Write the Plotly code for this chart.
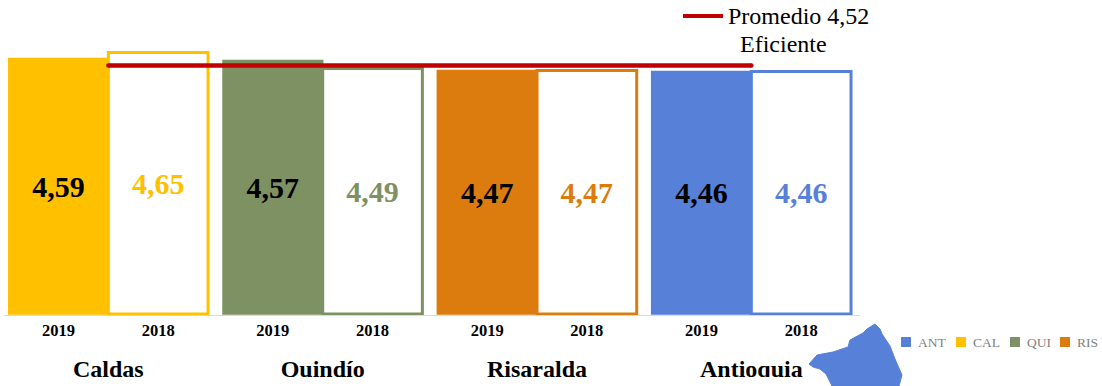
import plotly.graph_objects as go

REGIONS = ["Caldas", "Quindío", "Risaralda", "Antioquia"]
YEARS = ["2019", "2018"]
VALUES_2019 = [4.59, 4.57, 4.47, 4.46]
VALUES_2018 = [4.65, 4.49, 4.47, 4.46]
COLORS = ["#FFC000", "#7D9162", "#DD7C0E", "#5780D8"]
AVERAGE = 4.52
AVERAGE_LABEL = ["Promedio 4,52", "Eficiente"]
LEGEND_CODES = ["ANT", "CAL", "QUI", "RIS"]
LEGEND_COLORS = ["#5780D8", "#FFC000", "#7D9162", "#DD7C0E"]

W, H = 1102, 386
BASE = 2.035
PITCH = 2.15
SERIF = "Liberation Serif, Times New Roman, serif"
NAME_LEVEL = 1.47


def fmt(v):
    return f"{v:.2f}".replace(".", ",")


def px(x):
    return x / W


def py(y):
    return 1 - y / H


x19 = [g * PITCH for g in range(len(REGIONS))]
x18 = [g * PITCH + 1 for g in range(len(REGIONS))]
x_mid = [g * PITCH + 0.5 for g in range(len(REGIONS))]

fig = go.Figure()
fig.add_trace(go.Bar(
    x=x19, y=[v - BASE for v in VALUES_2019], base=BASE, width=1,
    marker=dict(color=COLORS, line=dict(color=COLORS, width=1.5)),
    text=[fmt(v) for v in VALUES_2019], textposition="inside",
    insidetextanchor="middle", textangle=0, constraintext="none",
    textfont=dict(family=SERIF, size=30, color="#000000", weight="bold"),
))
fig.add_trace(go.Bar(
    x=x18, y=[v - BASE for v in VALUES_2018], base=BASE, width=1,
    marker=dict(color="#FFFFFF", line=dict(color=COLORS, width=3)),
    text=[fmt(v) for v in VALUES_2018], textposition="inside",
    insidetextanchor="middle", textangle=0, constraintext="none",
    textfont=dict(family=SERIF, size=30, color=COLORS, weight="bold"),
))
fig.add_trace(go.Scatter(
    x=[x18[0] - 0.5, x19[-1] + 0.5], y=[AVERAGE, AVERAGE], mode="lines+markers",
    line=dict(color="#C00000", width=4.5), marker=dict(color="#C00000", size=4.5),
))
fig.add_trace(go.Scatter(
    x=x_mid, y=[NAME_LEVEL] * len(REGIONS), mode="text", text=REGIONS,
    textposition="middle center", cliponaxis=True,
    textfont=dict(family=SERIF, size=24, color="#000000", weight="bold"),
))

tickvals, ticktext = [], []
for a, b in zip(x19, x18):
    tickvals += [a, b]
    ticktext += YEARS

shapes = [dict(
    type="line", xref="paper", yref="paper", x0=px(683), x1=px(723), y0=py(16), y1=py(16),
    line=dict(color="#C00000", width=4),
)]
map_pts = [(809, 364), (817, 355), (833, 352), (848, 347), (850, 340), (863, 333), (867, 329),
           (875, 324), (880, 329), (882, 334), (890, 346), (895, 359), (902, 375), (899, 386),
           (832, 386), (826, 374), (820, 369), (813, 367)]
path = "M " + " L ".join(f"{px(x):.5f},{py(y):.5f}" for x, y in map_pts) + " Z"
shapes.append(dict(type="path", xref="paper", yref="paper", path=path,
                   fillcolor="#5780D8", line=dict(color="#5780D8", width=1)))

annotations = [
    dict(text=AVERAGE_LABEL[0], x=px(726), y=py(16), xref="paper", yref="paper", xanchor="left",
         yanchor="middle", showarrow=False, font=dict(family=SERIF, size=24, color="#000000")),
    dict(text=AVERAGE_LABEL[1], x=px(783), y=py(44), xref="paper", yref="paper", xanchor="center",
         yanchor="middle", showarrow=False, font=dict(family=SERIF, size=24, color="#000000")),
]
for code, col, sx, tx in zip(LEGEND_CODES, LEGEND_COLORS, [901, 956, 1010, 1060], [915.5, 970.5, 1024.5, 1074.5]):
    shapes.append(dict(type="rect", xref="paper", yref="paper", x0=px(sx), x1=px(sx + 10),
                       y0=py(337), y1=py(347), fillcolor=col, line=dict(width=0)))
    annotations.append(dict(text=code, x=px(tx), y=py(342), xref="paper", yref="paper",
                            xanchor="left", yanchor="middle", showarrow=False,
                            font=dict(family=SERIF, size=13.5, color="#7F7F7F")))

fig.update_layout(
    width=W, height=H, autosize=False, showlegend=False, barmode="overlay",
    margin=dict(l=0, r=0, t=0, b=0), paper_bgcolor="#FFFFFF", plot_bgcolor="#FFFFFF",
    shapes=shapes, annotations=annotations,
    xaxis=dict(
        domain=[px(4), px(860)], range=[-0.547, 8.04], anchor="free", position=py(315),
        showgrid=False, zeroline=False, showline=True, linecolor="#D9D9D9", linewidth=1,
        tickmode="array", tickvals=tickvals, ticktext=ticktext, ticks="",
        tickfont=dict(family=SERIF, size=16.5, color="#000000", weight="bold"),
    ),
    yaxis=dict(domain=[py(377), 1], range=[1.405, 5.175], visible=False),
)

fig.write_html("out.html", config=dict(displayModeBar=False),
               post_script="document.body.style.margin='0';document.body.style.overflow='hidden';")
